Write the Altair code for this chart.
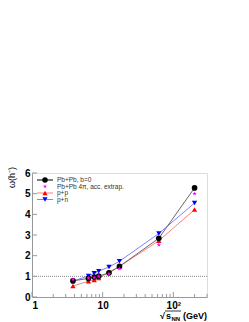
import altair as alt
import pandas as pd

energies = [3.8, 6.3, 7.6, 8.8, 12.3, 17.3, 62.4, 200]
pbpb = [0.78, 0.90, 0.97, 1.01, 1.17, 1.48, 2.84, 5.28]
pbpb4pi = [0.85, 0.92, 0.95, 1.00, 1.13, 1.37, 2.52, 5.00]
pp = [0.53, 0.77, 0.83, 0.92, 1.21, 1.48, 2.72, 4.23]
pn = [0.77, 1.02, 1.15, 1.25, 1.45, 1.73, 3.07, 4.55]

series_names = ["Pb+Pb, b=0", "Pb+Pb 4π, acc. extrap.", "p+p", "p+n"]
major_x = [1, 10, 100]
minor_x = [2, 3, 4, 5, 6, 7, 8, 9, 20, 30, 40, 50, 60, 70, 80, 90, 200, 300]
y_ticks = [0, 1, 2, 3, 4, 5, 6]

W, H = 175, 124
FONT = "Liberation Sans"
STAR = ("M0,-1L0.223,-0.307L0.951,-0.309L0.361,0.117L0.588,0.809L0,0.38"
        "L-0.588,0.809L-0.361,0.117L-0.951,-0.309L-0.223,-0.307Z")

df = pd.DataFrame({"e": energies, "pbpb": pbpb, "pbpb4pi": pbpb4pi, "pp": pp, "pn": pn})

xs = alt.Scale(type="log", domain=[1, 300])
ys = alt.Scale(domain=[0, 6])

xaxis = alt.Axis(values=major_x, ticks=False, grid=False, domainColor="#999",
                 labelFont=FONT, labelFontWeight="bold", labelFontSize=10, labelColor="#000",
                 labelPadding=3, title=None,
                 labelExpr="datum.value == 100 ? '10²' : datum.label")
yaxis = alt.Axis(values=y_ticks, ticks=False, grid=False, domainColor="#999",
                 labelFont=FONT, labelFontWeight="bold", labelFontSize=10, labelColor="#000",
                 labelPadding=2, title=None)

base = alt.Chart(df)

def series(col, color, shape, size, line_color=None):
    layers = []
    if line_color:
        layers.append(base.mark_line(color=line_color, strokeWidth=1).encode(
            x=alt.X("e:Q", scale=xs, axis=xaxis), y=alt.Y(f"{col}:Q", scale=ys, axis=yaxis)))
    layers.append(base.mark_point(shape=shape, size=size, filled=True, color=color, opacity=1).encode(
        x=alt.X("e:Q", scale=xs, axis=xaxis), y=alt.Y(f"{col}:Q", scale=ys, axis=yaxis)))
    return layers

layers = []

# dotted line at 1
layers.append(alt.Chart(pd.DataFrame({"y": [1]})).mark_rule(color="#888", strokeDash=[1, 1], strokeWidth=1).encode(
    y=alt.Y("y:Q", scale=ys, axis=yaxis)))

layers += series("pp", "#ff0000", "triangle-up", 28, "#ff8080")
layers += series("pn", "#0000ff", "triangle-down", 28, "#8080ff")
layers += series("pbpb", "#000000", "circle", 32, "#666666")
layers += series("pbpb4pi", "#ff00ff", STAR, 22)

# inward ticks
layers.append(alt.Chart(pd.DataFrame({"t": minor_x})).mark_rule(color="#999").encode(
    x=alt.X("t:Q", scale=xs, axis=xaxis), y=alt.value(H), y2=alt.value(H - 3)))
layers.append(alt.Chart(pd.DataFrame({"t": major_x})).mark_rule(color="#999").encode(
    x=alt.X("t:Q", scale=xs, axis=xaxis), y=alt.value(H), y2=alt.value(H - 5)))
layers.append(alt.Chart(pd.DataFrame({"t": y_ticks})).mark_rule(color="#999").encode(
    y=alt.Y("t:Q", scale=ys, axis=yaxis), x=alt.value(0), x2=alt.value(5)))

# legend
leg_y = [7, 13.5, 20, 26.5]
leg_colors = ["#000000", "#ff00ff", "#ff0000", "#0000ff"]
leg_line = ["#000000", None, "#ff8080", "#8080ff"]
leg_shapes = ["circle", STAR, "triangle-up", "triangle-down"]
leg_sizes = [30, 20, 26, 26]
for i, name in enumerate(series_names):
    if leg_line[i]:
        layers.append(alt.Chart(pd.DataFrame({"a": [0]})).mark_rule(color=leg_line[i], strokeWidth=1).encode(
            x=alt.value(5), x2=alt.value(21), y=alt.value(leg_y[i])))
    layers.append(alt.Chart(pd.DataFrame({"a": [0]})).mark_point(
        shape=leg_shapes[i], size=leg_sizes[i], filled=True, color=leg_colors[i], opacity=1).encode(
        x=alt.value(13), y=alt.value(leg_y[i])))
    layers.append(alt.Chart(pd.DataFrame({"a": [name]})).mark_text(
        align="left", baseline="middle", font=FONT, fontSize=6.5, color="#333").encode(
        x=alt.value(25), y=alt.value(leg_y[i]), text="a:N"))

# y title
layers.append(alt.Chart(pd.DataFrame({"a": ["ω(h⁻)"]})).mark_text(
    angle=270, align="right", baseline="middle", font=FONT, fontSize=9, color="#000").encode(
    x=alt.value(-20), y=alt.value(-6), text="a:N"))

# x title
tb = 146
for txt, xx, fs in [("√", 128, 9), ("s", 134, 9), ("NN", 139.5, 6)]:
    layers.append(alt.Chart(pd.DataFrame({"a": [txt]})).mark_text(
        align="left", baseline="alphabetic", font=FONT, fontSize=fs, fontWeight="bold", color="#000").encode(
        x=alt.value(xx), y=alt.value(tb + (2 if fs < 8 else 0)), text="a:N"))
layers.append(alt.Chart(pd.DataFrame({"a": ["(GeV)"]})).mark_text(
    align="right", baseline="alphabetic", font=FONT, fontSize=9, fontWeight="bold", color="#000").encode(
    x=alt.value(W), y=alt.value(tb), text="a:N"))
layers.append(alt.Chart(pd.DataFrame({"a": [0]})).mark_rule(color="#000", strokeWidth=0.8).encode(
    x=alt.value(133), x2=alt.value(149), y=alt.value(138)))

chart = alt.layer(*layers).properties(
    width=W, height=H,
    autosize=alt.AutoSizeParams(type="none"),
    padding={"left": 24, "top": 165, "right": 34, "bottom": 25},
).configure_view(stroke="#999", strokeWidth=1).configure(background="white")

chart.save("out.html", embed_options={"renderer": "svg", "actions": False})
